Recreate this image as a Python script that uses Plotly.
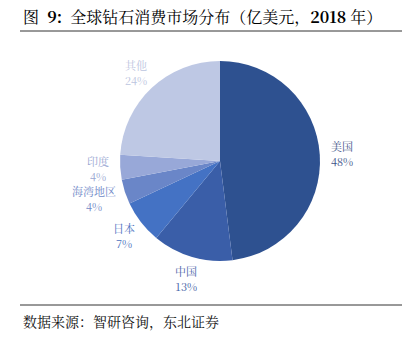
import math
import plotly.graph_objects as go

categories = ["美国", "中国", "日本", "海湾地区", "印度", "其他"]
shares = [48, 13, 7, 4, 4, 24]
slice_colors = ["#2E5190", "#3A5EA8", "#4472C4", "#6A86C8", "#98A8D8", "#BEC8E4"]
label_colors = ["#3E5488", "#3F60A6", "#4A6FBE", "#7089C8", "#98A6D2", "#BCC5E0"]

W, H = 415, 342
cx, cy, r = 220, 161, 100
FONT = "Noto Serif CJK SC, Noto Sans CJK SC, serif"
LS = 11

fig = go.Figure(go.Pie(
    labels=categories,
    values=shares,
    sort=False,
    direction="clockwise",
    rotation=0,
    marker=dict(colors=slice_colors, line=dict(width=0)),
    textinfo="none",
    showlegend=False,
    hoverinfo="skip",
    domain=dict(x=[(cx - r) / W, (cx + r) / W], y=[1 - (cy + r) / H, 1 - (cy - r) / H]),
))

# outside labels placed from each slice's mid-angle
annotations = []
total = sum(shares)
cum = 0
for lab, val, col in zip(categories, shares, label_colors):
    mid = (cum + val / 2) / total * 2 * math.pi
    cum += val
    s, c = math.sin(mid), math.cos(mid)
    half_w = len(lab) * LS / 2
    bx = cx + (r + 22) * s + (half_w - LS) * s
    by = cy - (r + 22) * c
    for txt, dy in ((lab, -7.5), (f"{val}%", 7.5)):
        annotations.append(dict(
            text=txt, xref="paper", yref="paper", x=bx / W, y=1 - (by + dy) / H,
            xanchor="center", yanchor="middle", showarrow=False,
            font=dict(family=FONT, size=LS, color=col)))

annotations += [
    dict(text="图  <b>9:</b>  全球钻石消费市场分布（亿美元，<b>2018</b> 年）", xref="paper", yref="paper",
         x=21 / W, y=1 - 17 / H, xanchor="left", yanchor="middle", showarrow=False,
         font=dict(family=FONT, size=16, color="#000000")),
    dict(text="数据来源：智研咨询，东北证券", xref="paper", yref="paper",
         x=21 / W, y=1 - 321 / H, xanchor="left", yanchor="middle", showarrow=False,
         font=dict(family=FONT, size=14, color="#111111")),
]

fig.update_layout(
    width=W, height=H,
    margin=dict(l=0, r=0, t=0, b=0),
    paper_bgcolor="white", plot_bgcolor="white",
    shapes=[
        dict(type="line", xref="paper", yref="paper", x0=20 / W, x1=402 / W, y0=1 - 31 / H, y1=1 - 31 / H,
             line=dict(color="#333333", width=1)),
        dict(type="line", xref="paper", yref="paper", x0=20 / W, x1=402 / W, y0=1 - 305 / H, y1=1 - 305 / H,
             line=dict(color="#333333", width=1)),
    ],
    annotations=annotations,
)

fig.write_html("out.html")
